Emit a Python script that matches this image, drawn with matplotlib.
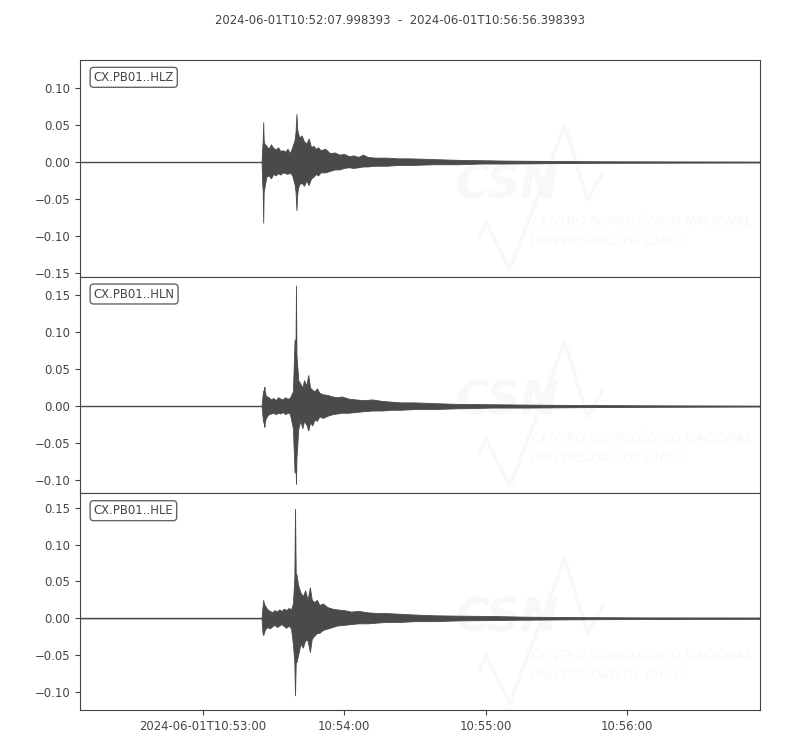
import matplotlib
matplotlib.use("Agg")
import matplotlib.pyplot as plt
from datetime import datetime

start_str = "2024-06-01T10:52:07.998393"
end_str = "2024-06-01T10:56:56.398393"
trace_ids = ["CX.PB01..HLZ", "CX.PB01..HLN", "CX.PB01..HLE"]
tick_times = ["2024-06-01T10:53:00", "2024-06-01T10:54:00",
              "2024-06-01T10:55:00", "2024-06-01T10:56:00"]
tick_labels = ["2024-06-01T10:53:00", "10:54:00", "10:55:00", "10:56:00"]

# Envelope of each trace: seconds after start, upper and lower amplitude
hlz_t = [0, 77.0, 77.3, 77.5, 77.7, 77.9, 78.2, 79, 80, 81, 82, 83, 84, 85, 86, 87, 88, 89, 90, 91.0,
         91.4, 91.8, 92.1, 92.4, 93, 94, 95, 96, 97, 98, 99, 100, 101, 102, 104, 106, 108, 110,
         112, 114, 116, 118, 120, 122, 125, 130, 135, 140, 150, 160, 170, 180, 200, 220, 288.4]
hlz_up = [0, 0, 0.02, 0.03, 0.054, 0.03, 0.025, 0.022, 0.018, 0.024, 0.019, 0.017, 0.020, 0.015, 0.016,
          0.014, 0.018, 0.012, 0.020, 0.030, 0.040, 0.065, 0.045, 0.040, 0.033, 0.036, 0.028, 0.025,
          0.032, 0.020, 0.022, 0.018, 0.020, 0.016, 0.018, 0.012, 0.013, 0.010, 0.011, 0.008, 0.009,
          0.007, 0.010, 0.007, 0.006, 0.006, 0.005, 0.005, 0.004, 0.003, 0.0025, 0.002, 0.0015, 0.001, 0.0005]
hlz_lo = [0, 0, -0.03, -0.04, -0.082, -0.04, -0.035, -0.020, -0.018, -0.022, -0.016, -0.018, -0.015,
          -0.017, -0.014, -0.015, -0.016, -0.014, -0.018, -0.030, -0.040, -0.065, -0.045, -0.036,
          -0.030, -0.028, -0.032, -0.025, -0.031, -0.022, -0.020, -0.016, -0.018, -0.014, -0.014,
          -0.012, -0.010, -0.010, -0.008, -0.007, -0.008, -0.007, -0.006, -0.006, -0.005, -0.005,
          -0.004, -0.004, -0.003, -0.003, -0.002, -0.002, -0.0015, -0.001, -0.0005]

hln_t = [0, 77.0, 77.6, 78.0, 78.2, 78.4, 78.8, 80, 81, 82, 83, 84, 85, 86, 87, 88, 89, 90.3, 91.0,
         91.4, 91.6, 91.8, 92.0, 92.6, 93.5, 94.3, 95, 96, 96.8, 97.6, 98.5, 99.5, 100.5, 101.5, 103,
         105, 107, 109, 111, 114, 117, 120, 124, 128, 132, 136, 142, 150, 160, 175, 190, 210, 240, 288.4]
hln_up = [0, 0, 0.020, 0.022, 0.026, 0.020, 0.014, 0.012, 0.009, 0.011, 0.008, 0.012, 0.010, 0.009,
          0.012, 0.010, 0.011, 0.020, 0.090, 0.080, 0.163, 0.070, 0.060, 0.035, 0.030, 0.025, 0.035,
          0.028, 0.042, 0.025, 0.022, 0.020, 0.024, 0.018, 0.016, 0.015, 0.013, 0.012, 0.013, 0.010,
          0.009, 0.008, 0.009, 0.007, 0.006, 0.005, 0.005, 0.004, 0.003, 0.0025, 0.002, 0.0015, 0.001, 0.0005]
hln_lo = [0, 0, -0.020, -0.024, -0.028, -0.022, -0.016, -0.011, -0.010, -0.009, -0.011, -0.009,
          -0.010, -0.008, -0.011, -0.009, -0.010, -0.030, -0.090, -0.080, -0.105, -0.070, -0.060,
          -0.030, -0.020, -0.030, -0.020, -0.025, -0.033, -0.022, -0.026, -0.018, -0.020, -0.014,
          -0.016, -0.013, -0.011, -0.010, -0.009, -0.009, -0.008, -0.007, -0.006, -0.006, -0.005,
          -0.005, -0.004, -0.004, -0.003, -0.002, -0.002, -0.0015, -0.001, -0.0005]

hle_t = [0, 77.0, 77.4, 77.7, 78.0, 78.5, 79.5, 80.5, 81.5, 82.5, 83.5, 84.5, 85.5, 86.5, 87.5, 88.5,
         89.5, 90.3, 90.9, 91.2, 91.5, 91.8, 92.5, 93.5, 94.5, 95.5, 96.5, 97.5, 98.3, 99.3, 100.5,
         101.5, 103, 105, 107, 109, 112, 115, 118, 122, 126, 130, 136, 142, 150, 160, 175, 190, 210, 240, 288.4]
hle_up = [0, 0, 0.015, 0.025, 0.020, 0.017, 0.012, 0.010, 0.008, 0.011, 0.009, 0.012, 0.010, 0.013,
          0.011, 0.014, 0.012, 0.020, 0.055, 0.149, 0.060, 0.060, 0.045, 0.035, 0.030, 0.038, 0.025,
          0.042, 0.025, 0.022, 0.025, 0.018, 0.020, 0.015, 0.013, 0.012, 0.011, 0.009, 0.010, 0.008,
          0.007, 0.007, 0.006, 0.005, 0.004, 0.0035, 0.003, 0.002, 0.0015, 0.001, 0.0008]
hle_lo = [0, 0, -0.020, -0.023, -0.020, -0.015, -0.012, -0.014, -0.011, -0.009, -0.012, -0.010,
          -0.008, -0.011, -0.013, -0.010, -0.014, -0.035, -0.060, -0.105, -0.060, -0.060, -0.050,
          -0.035, -0.040, -0.030, -0.030, -0.046, -0.028, -0.024, -0.020, -0.020, -0.016, -0.014,
          -0.012, -0.010, -0.009, -0.008, -0.007, -0.007, -0.006, -0.005, -0.005, -0.004, -0.004,
          -0.003, -0.0025, -0.002, -0.0015, -0.001, -0.0008]

ylims = [(-0.155, 0.138), (-0.118, 0.175), (-0.125, 0.170)]
yticks = [[-0.15, -0.10, -0.05, 0.0, 0.05, 0.10],
          [-0.10, -0.05, 0.0, 0.05, 0.10, 0.15],
          [-0.10, -0.05, 0.0, 0.05, 0.10, 0.15]]

traces = [(hlz_t, hlz_up, hlz_lo), (hln_t, hln_up, hln_lo), (hle_t, hle_up, hle_lo)]

fmt = "%Y-%m-%dT%H:%M:%S.%f"
t0 = datetime.strptime(start_str, fmt)
t1 = datetime.strptime(end_str, fmt)
duration = (t1 - t0).total_seconds()
tick_pos = [(datetime.strptime(s, "%Y-%m-%dT%H:%M:%S") - t0).total_seconds() for s in tick_times]

TXT = "#444444"
TRC = "#4a4a4a"
WM = "#f8f8f8"
plt.rcParams["font.family"] = ["DejaVu Sans"]

fig, axes = plt.subplots(3, 1, figsize=(8, 7.5), dpi=100, sharex=True)
fig.subplots_adjust(left=0.1, right=0.95, top=0.92, bottom=0.0533, hspace=0)

for i, ax in enumerate(axes):
    tt, up, lo = traces[i]
    # faint watermark logo
    ax.text(0.628, 0.42, "CSN", transform=ax.transAxes, fontsize=33, fontweight="bold",
            fontstyle="italic", color=WM, ha="center", va="center", zorder=0, clip_on=True)
    ax.text(0.665, 0.253, "CENTRO SISMOLÓGICO NACIONAL", transform=ax.transAxes, fontsize=9.3,
            fontstyle="italic", color=WM, ha="left", va="center", zorder=0, clip_on=True)
    ax.text(0.662, 0.161, "UNIVERSIDAD DE CHILE", transform=ax.transAxes, fontsize=9.3,
            fontstyle="italic", color=WM, ha="left", va="center", zorder=0, clip_on=True)
    ax.plot([0.588, 0.597, 0.632, 0.713, 0.746, 0.769], [0.184, 0.253, 0.032, 0.70, 0.355, 0.479],
            transform=ax.transAxes, color=WM, lw=2.5, zorder=0)

    ax.plot([0, duration], [0, 0], color=TRC, lw=1.0, zorder=2)
    ax.fill_between(tt, lo, up, color=TRC, lw=0.6, edgecolor=TRC, zorder=3)

    ax.set_xlim(0, duration)
    ax.set_ylim(*ylims[i])
    ax.set_yticks(yticks[i])
    ax.set_yticklabels([f"{v:.2f}".replace("-", "\u2212") for v in yticks[i]])
    ax.tick_params(colors=TXT, labelsize="small", labelcolor=TXT)
    for sp in ax.spines.values():
        sp.set_color(TXT)
    ax.text(0.02, 0.95, trace_ids[i], transform=ax.transAxes, fontsize="small", ha="left",
            va="top", color=TXT, zorder=5,
            bbox=dict(boxstyle="round", fc="w", ec="#555555", alpha=0.9))
    if i < 2:
        ax.tick_params(axis="x", which="both", bottom=False, labelbottom=False)

axes[-1].set_xticks(tick_pos)
axes[-1].set_xticklabels(tick_labels)

fig.text(0.5, 0.973, f"{start_str}  -  {end_str}", ha="center", va="center",
         fontsize="small", color=TXT)

fig.savefig("out.png", dpi=100)
